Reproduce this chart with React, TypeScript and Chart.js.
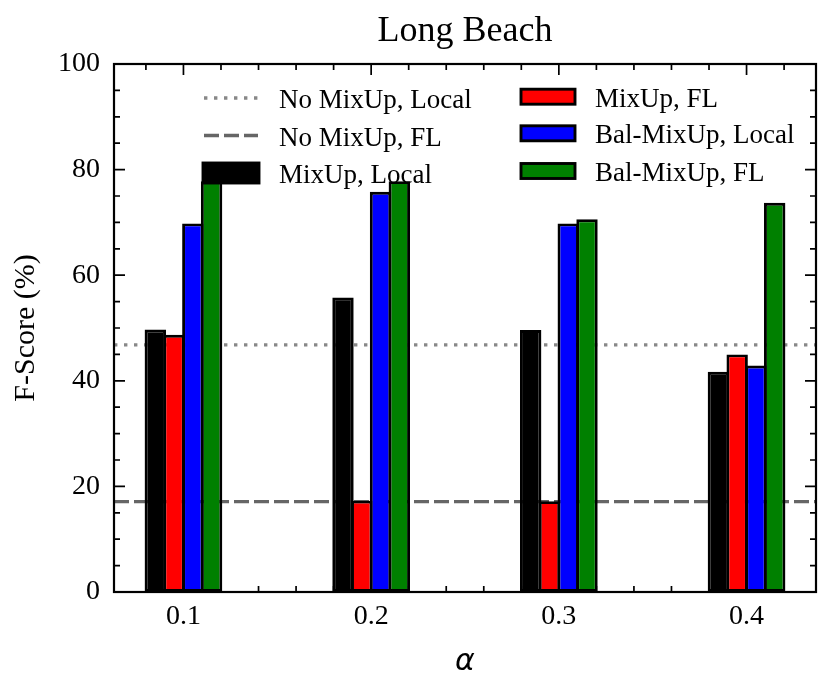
import React, { useEffect, useRef } from "react";
import { Chart, registerables } from "chart.js";

Chart.register(...registerables);

// ---- data ----
const ALPHAS = [0.1, 0.2, 0.3, 0.4];
const X_TICK_LABELS = ["0.1", "0.2", "0.3", "0.4"];
const MIXUP_LOCAL = [49.7, 55.8, 49.6, 41.7];
const MIXUP_FL = [48.7, 17.3, 17.2, 45.0];
const BAL_MIXUP_LOCAL = [69.8, 75.8, 69.8, 42.9];
const BAL_MIXUP_FL = [77.8, 77.8, 70.6, 73.7];
const NO_MIXUP_LOCAL = 46.8;
const NO_MIXUP_FL = 17.1;
const Y_TICKS = [0, 20, 40, 60, 80, 100];
const X_MIN = 0.063;
const X_MAX = 0.437;
const Y_MIN = 0;
const Y_MAX = 100;
const TITLE = "Long Beach";
const Y_TITLE = "F-Score (%)";
const X_TITLE = "α";
const SERIES_LABELS = [
  "No MixUp, Local",
  "No MixUp, FL",
  "MixUp, Local",
  "MixUp, FL",
  "Bal-MixUp, Local",
  "Bal-MixUp, FL",
];

const SERIF = "'Liberation Serif', 'Times New Roman', serif";
const FS = 27;
const TICK_FS = 28;
const LABEL_FS = 30;

function barSet(label: string, values: number[], color: string) {
  return {
    type: "bar" as const,
    label,
    data: ALPHAS.map((a, i) => ({ x: a, y: values[i] })),
    backgroundColor: color,
    borderColor: "#000000",
    borderWidth: 2.9,
    borderSkipped: false,
    categoryPercentage: 0.4,
    barPercentage: 1.14,
    order: 1,
  };
}

function hLine(label: string, value: number, color: string, dash: number[], width: number) {
  return {
    type: "line" as const,
    label,
    data: [
      { x: X_MIN, y: value },
      { x: X_MAX, y: value },
    ],
    borderColor: color,
    borderWidth: width,
    borderDash: dash,
    borderCapStyle: "butt",
    pointRadius: 0,
    fill: false,
    order: 2,
  };
}

const decorPlugin = {
  id: "decor",
  afterDatasetsDraw(chart: any) {
    const { ctx, chartArea: a, scales } = chart;
    const x = scales.x;
    const y = scales.y;
    ctx.save();
    ctx.strokeStyle = "#000";
    ctx.lineWidth = 1.7;
    const MAJ = 11;
    const MIN = 6;
    const near = (v: number, arr: number[]) => arr.some((m) => Math.abs(m - v) < 1e-6);
    // x ticks (bottom & top)
    for (let k = Math.ceil(X_MIN / 0.02 - 1e-9); k * 0.02 <= X_MAX + 1e-9; k++) {
      const v = +(k * 0.02).toFixed(4);
      const len = near(v, ALPHAS) ? MAJ : MIN;
      const px = x.getPixelForValue(v);
      ctx.beginPath();
      ctx.moveTo(px, a.bottom);
      ctx.lineTo(px, a.bottom - len);
      ctx.moveTo(px, a.top);
      ctx.lineTo(px, a.top + len);
      ctx.stroke();
    }
    // y ticks (left & right)
    for (let v = Y_MIN; v <= Y_MAX; v += 5) {
      const len = near(v, Y_TICKS) ? MAJ : MIN;
      const py = y.getPixelForValue(v);
      ctx.beginPath();
      ctx.moveTo(a.left, py);
      ctx.lineTo(a.left + len, py);
      ctx.moveTo(a.right, py);
      ctx.lineTo(a.right - len, py);
      ctx.stroke();
    }
    // frame
    ctx.lineWidth = 2.2;
    ctx.strokeRect(a.left, a.top, a.right - a.left, a.bottom - a.top);
    ctx.restore();
  },
  afterDraw(chart: any) {
    const { ctx, chartArea: a } = chart;
    const ds = chart.data.datasets;
    ctx.save();
    // title centred over plot area
    ctx.font = `36px ${SERIF}`;
    ctx.fillStyle = "#000";
    ctx.textAlign = "center";
    ctx.textBaseline = "alphabetic";
    ctx.fillText(TITLE, (a.left + a.right) / 2, 41);

    const cols = [
      { hx: 204, hw: 54, tx: 279, rows: [98, 135.5, 173] },
      { hx: 521, hw: 54, tx: 595, rows: [96.7, 133.3, 171] },
    ];
    ctx.font = `${FS}px ${SERIF}`;
    ctx.textAlign = "left";
    for (let i = 0; i < 6; i++) {
      const c = cols[Math.floor(i / 3)];
      const ry = c.rows[i % 3];
      const d = ds[i];
      if (d.type === "line") {
        ctx.save();
        ctx.strokeStyle = d.borderColor;
        ctx.lineWidth = d.borderWidth;
        ctx.setLineDash(d.borderDash);
        ctx.lineCap = "butt";
        ctx.beginPath();
        ctx.moveTo(c.hx, ry);
        ctx.lineTo(c.hx + c.hw, ry);
        ctx.stroke();
        ctx.restore();
      } else {
        const big = d.backgroundColor === "#000000";
        const h = big ? 20 : 15;
        const w = big ? c.hw + 2 : c.hw;
        const x0 = big ? c.hx - 1 : c.hx;
        ctx.save();
        ctx.fillStyle = d.backgroundColor;
        ctx.fillRect(x0, ry - h / 2, w, h);
        ctx.strokeStyle = "#000";
        ctx.lineWidth = 2.9;
        ctx.strokeRect(x0, ry - h / 2, w, h);
        ctx.restore();
      }
      ctx.fillStyle = "#000";
      ctx.fillText(d.label, c.tx, ry + 10);
    }
    ctx.restore();
  },
};

export default function App() {
  const ref = useRef<HTMLCanvasElement | null>(null);
  useEffect(() => {
    if (!ref.current) return;
    const chart = new Chart(ref.current, {
      type: "bar",
      data: {
        datasets: [
          hLine(SERIES_LABELS[0], NO_MIXUP_LOCAL, "#888888", [3.4, 6.6], 3.4),
          hLine(SERIES_LABELS[1], NO_MIXUP_FL, "#666666", [15, 5], 3.3),
          barSet(SERIES_LABELS[2], MIXUP_LOCAL, "#000000"),
          barSet(SERIES_LABELS[3], MIXUP_FL, "#ff0000"),
          barSet(SERIES_LABELS[4], BAL_MIXUP_LOCAL, "#0000ff"),
          barSet(SERIES_LABELS[5], BAL_MIXUP_FL, "#008000"),
        ] as any,
      },
      options: {
        animation: false,
        responsive: false,
        devicePixelRatio: 1,
        layout: { padding: { left: 0, right: 14, top: 64, bottom: 0 } },
        plugins: {
          legend: { display: false },
          tooltip: { enabled: false },
          title: { display: false },
        },
        scales: {
          x: {
            type: "linear",
            min: X_MIN,
            max: X_MAX,
            offset: false,
            grid: { display: false, drawTicks: false },
            border: { display: false },
            afterBuildTicks: (s: any) => {
              s.ticks = ALPHAS.map((v) => ({ value: v }));
            },
            afterFit: (s: any) => {
              s.height = 94;
            },
            ticks: {
              color: "#000",
              padding: 8,
              maxRotation: 0,
              autoSkip: false,
              font: { family: SERIF, size: TICK_FS },
              callback: (v: any) => {
                const i = ALPHAS.findIndex((a) => Math.abs(a - Number(v)) < 1e-6);
                return i >= 0 ? X_TICK_LABELS[i] : "";
              },
            },
            title: {
              display: true,
              text: X_TITLE,
              color: "#000",
              font: { family: "'DejaVu Sans', sans-serif", size: LABEL_FS, style: "italic" },
              padding: { top: 0, bottom: 5.5 },
            },
          },
          y: {
            min: Y_MIN,
            max: Y_MAX,
            grid: { display: false, drawTicks: false },
            border: { display: false },
            afterBuildTicks: (s: any) => {
              s.ticks = Y_TICKS.map((v) => ({ value: v }));
            },
            afterFit: (s: any) => {
              s.width = 114;
            },
            ticks: {
              color: "#000",
              padding: 14,
              font: { family: SERIF, size: TICK_FS },
            },
            title: {
              display: true,
              text: Y_TITLE,
              color: "#000",
              font: { family: SERIF, size: LABEL_FS },
              padding: { top: 8.5, bottom: 0 },
            },
          },
        },
      },
      plugins: [decorPlugin],
    } as any);
    return () => chart.destroy();
  }, []);
  return (
    <div style={{ position: "fixed", left: 0, top: 0, width: 830, height: 686, background: "#fff" }}>
      <canvas ref={ref} width={830} height={686} style={{ width: 830, height: 686, display: "block" }} />
    </div>
  );
}
